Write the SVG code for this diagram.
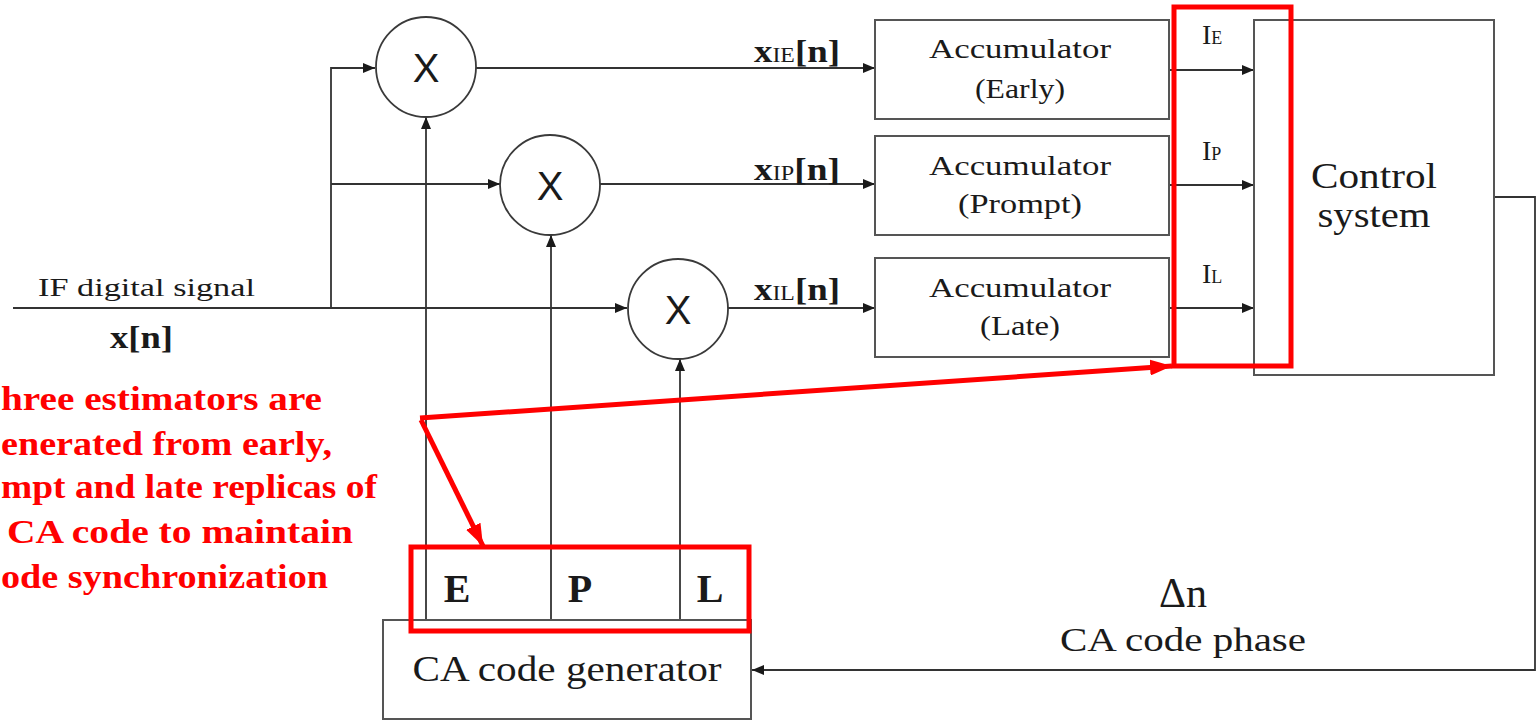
<svg xmlns="http://www.w3.org/2000/svg" width="1537" height="721" viewBox="0 0 1537 721">
  <style>
    .box { fill: #ffffff; stroke: #555555; stroke-width: 2; }
    .mul { fill: #ffffff; stroke: #3a3a3a; stroke-width: 1.8; }
    .wire { fill: none; stroke: #333333; stroke-width: 1.8; }
    .arrow { fill: none; stroke: #333333; stroke-width: 1.8; marker-end: url(#ah); }
    .hl { fill: none; stroke: #ff0000; stroke-width: 5; }
    .hlarrow { fill: none; stroke: #ff0000; stroke-width: 5; marker-end: url(#rah); }
    .serif { font-family: "Liberation Serif", "DejaVu Serif", serif; fill: #1a1a1a; }
    .sans { font-family: "Liberation Sans", Arial, sans-serif; fill: #1a1a1a; }
    .note { font-family: "Liberation Serif", "DejaVu Serif", serif; font-weight: bold; font-size: 33px; fill: #ff0000; }
  </style>
  <defs>
    <marker id="ah" viewBox="0 0 12 10" refX="12" refY="5" markerWidth="12" markerHeight="10" markerUnits="userSpaceOnUse" orient="auto">
      <path d="M0,0 L12,5 L0,10 z" fill="#1a1a1a"/>
    </marker>
    <marker id="rah" viewBox="0 0 22 16" refX="22" refY="8" markerWidth="22" markerHeight="16" markerUnits="userSpaceOnUse" orient="auto">
      <path d="M0,0 L22,8 L0,16 z" fill="#ff0000"/>
    </marker>
  </defs>

  <rect width="1537" height="721" fill="#ffffff"/>

  <!-- signal connectors -->
  <g id="connectors">
    <!-- IF input and branches -->
    <line class="arrow" x1="13" y1="308" x2="627" y2="308"/>
    <polyline class="wire" points="331,308 331,68 340,68"/>
    <line class="arrow" x1="331" y1="68" x2="375" y2="68"/>
    <line class="arrow" x1="331" y1="184" x2="500" y2="184"/>
    <!-- replica codes into multipliers -->
    <line class="arrow" x1="426" y1="620" x2="426" y2="117"/>
    <line class="arrow" x1="551" y1="620" x2="551" y2="235"/>
    <line class="arrow" x1="680" y1="620" x2="680" y2="359"/>
    <!-- multiplier outputs to accumulators -->
    <line class="arrow" x1="476" y1="68" x2="875" y2="68"/>
    <line class="arrow" x1="600" y1="184" x2="875" y2="184"/>
    <line class="arrow" x1="728" y1="308" x2="875" y2="308"/>
    <!-- accumulator outputs to control system -->
    <line class="arrow" x1="1170" y1="70" x2="1254" y2="70"/>
    <line class="arrow" x1="1170" y1="185" x2="1254" y2="185"/>
    <line class="arrow" x1="1170" y1="308" x2="1254" y2="308"/>
    <!-- code phase feedback -->
    <polyline class="wire" points="1494,197 1535,197 1535,670 1500,670"/>
    <line class="arrow" x1="1535" y1="670" x2="752" y2="670"/>
  </g>

  <!-- multipliers -->
  <g id="mult-early">
    <circle class="mul" cx="426" cy="67" r="50"/>
    <text class="sans" x="426" y="82" font-size="40" text-anchor="middle">X</text>
  </g>
  <g id="mult-prompt">
    <circle class="mul" cx="550" cy="185" r="50"/>
    <text class="sans" x="550" y="200" font-size="40" text-anchor="middle">X</text>
  </g>
  <g id="mult-late">
    <circle class="mul" cx="678" cy="309" r="50"/>
    <text class="sans" x="678" y="324" font-size="40" text-anchor="middle">X</text>
  </g>

  <!-- accumulators -->
  <g id="acc-early">
    <rect class="box" x="875" y="20" width="294" height="99"/>
    <text class="serif" x="1020" y="58" font-size="27" text-anchor="middle" textLength="182" lengthAdjust="spacingAndGlyphs">Accumulator</text>
    <text class="serif" x="1020" y="98" font-size="27" text-anchor="middle" textLength="90" lengthAdjust="spacingAndGlyphs">(Early)</text>
  </g>
  <g id="acc-prompt">
    <rect class="box" x="875" y="136" width="294" height="99"/>
    <text class="serif" x="1020" y="175" font-size="27" text-anchor="middle" textLength="182" lengthAdjust="spacingAndGlyphs">Accumulator</text>
    <text class="serif" x="1020" y="213" font-size="27" text-anchor="middle" textLength="124" lengthAdjust="spacingAndGlyphs">(Prompt)</text>
  </g>
  <g id="acc-late">
    <rect class="box" x="875" y="258" width="294" height="99"/>
    <text class="serif" x="1020" y="297" font-size="27" text-anchor="middle" textLength="182" lengthAdjust="spacingAndGlyphs">Accumulator</text>
    <text class="serif" x="1020" y="335" font-size="27" text-anchor="middle" textLength="80" lengthAdjust="spacingAndGlyphs">(Late)</text>
  </g>

  <!-- control system -->
  <g id="control-system">
    <rect class="box" x="1254" y="20" width="240" height="355"/>
    <text class="serif" x="1374" y="188" font-size="35" text-anchor="middle" textLength="126" lengthAdjust="spacingAndGlyphs">Control</text>
    <text class="serif" x="1374" y="227" font-size="35" text-anchor="middle" textLength="113" lengthAdjust="spacingAndGlyphs">system</text>
  </g>

  <!-- code generator -->
  <g id="ca-code-generator">
    <rect class="box" x="383" y="620" width="368" height="99"/>
    <text class="serif" x="567" y="681" font-size="35" text-anchor="middle" textLength="309" lengthAdjust="spacingAndGlyphs">CA code generator</text>
    <text class="serif" x="457" y="602" font-size="40" font-weight="bold" text-anchor="middle">E</text>
    <text class="serif" x="580" y="602" font-size="40" font-weight="bold" text-anchor="middle">P</text>
    <text class="serif" x="710" y="602" font-size="40" font-weight="bold" text-anchor="middle">L</text>
  </g>

  <!-- signal labels -->
  <g id="labels">
    <text class="serif" x="38" y="296" font-size="26" textLength="217" lengthAdjust="spacingAndGlyphs">IF digital signal</text>
    <text class="serif" x="110" y="348" font-size="31" font-weight="bold" textLength="63" lengthAdjust="spacingAndGlyphs">x[n]</text>

    <text class="serif" x="754" y="62" font-weight="bold" font-size="31" textLength="86" lengthAdjust="spacingAndGlyphs">x<tspan font-size="20" font-weight="normal">IE</tspan>[n]</text>
    <text class="serif" x="754" y="180" font-weight="bold" font-size="31" textLength="86" lengthAdjust="spacingAndGlyphs">x<tspan font-size="20" font-weight="normal">IP</tspan>[n]</text>
    <text class="serif" x="754" y="300" font-weight="bold" font-size="31" textLength="86" lengthAdjust="spacingAndGlyphs">x<tspan font-size="20" font-weight="normal">IL</tspan>[n]</text>

    <text class="serif" x="1202" y="44" font-size="28">I<tspan font-size="18">E</tspan></text>
    <text class="serif" x="1202" y="160" font-size="28">I<tspan font-size="18">P</tspan></text>
    <text class="serif" x="1202" y="283" font-size="28">I<tspan font-size="18">L</tspan></text>

    <text class="serif" x="1183" y="607" font-size="42" text-anchor="middle">Δn</text>
    <text class="serif" x="1060" y="651" font-size="33" textLength="246" lengthAdjust="spacingAndGlyphs">CA code phase</text>
  </g>

  <!-- highlight annotation -->
  <g id="annotation">
    <rect class="hl" x="1174" y="7" width="117" height="359"/>
    <rect class="hl" x="411" y="547" width="338" height="84"/>
    <line class="hlarrow" x1="420" y1="418" x2="1172" y2="366"/>
    <line class="hlarrow" x1="421" y1="420" x2="483" y2="546"/>
    <text class="note" x="1" y="410" textLength="321" lengthAdjust="spacingAndGlyphs">hree estimators are</text>
    <text class="note" x="1" y="455" textLength="331" lengthAdjust="spacingAndGlyphs">enerated from early,</text>
    <text class="note" x="1" y="498" textLength="376" lengthAdjust="spacingAndGlyphs">mpt and late replicas of</text>
    <text class="note" x="7" y="543" textLength="346" lengthAdjust="spacingAndGlyphs">CA code to maintain</text>
    <text class="note" x="1" y="588" textLength="327" lengthAdjust="spacingAndGlyphs">ode synchronization</text>
  </g>
</svg>
